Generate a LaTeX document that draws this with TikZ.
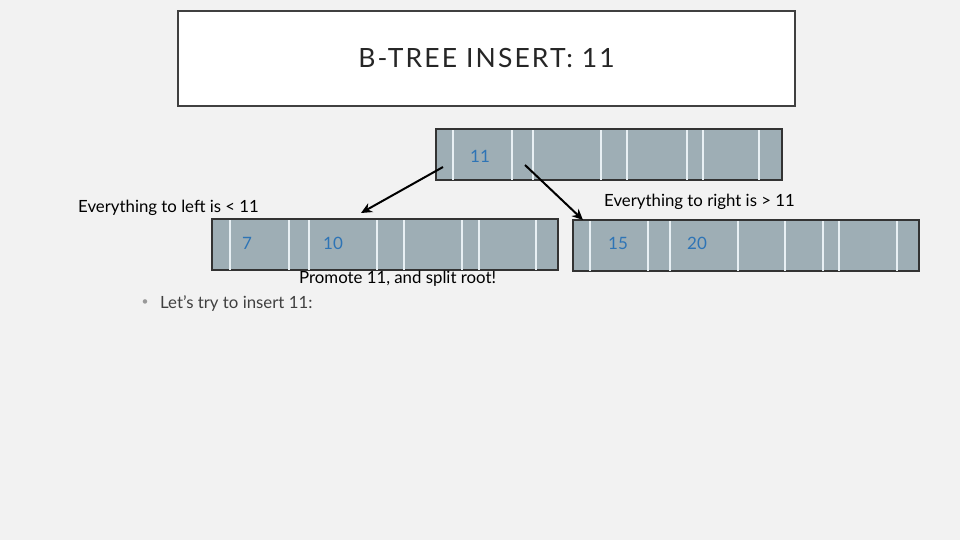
\documentclass[tikz,border=0pt]{standalone}
\usepackage{fontspec}
\setmainfont{Lato}
\newfontfamily\titlefont[LetterSpace=8]{Lato}
\usetikzlibrary{arrows.meta}
\definecolor{bg}{RGB}{242,242,242}
\definecolor{cellgray}{RGB}{158,174,181}
\definecolor{divwhite}{RGB}{232,240,244}
\definecolor{keyblue}{RGB}{46,116,181}
\definecolor{darktxt}{RGB}{64,64,64}
\tikzset{
  bnode/.style={draw=black!80, line width=1.2pt, fill=cellgray, minimum width=345pt, minimum height=50pt, inner sep=0pt, anchor=north west},
  divider/.style={draw=divwhite, line width=1.3pt},
  keytxt/.style={text=keyblue, font=\fontsize{17}{19}\selectfont, inner sep=0pt},
  lbl/.style={text=black, font=\fontsize{16.8}{19}\selectfont, inner sep=0pt, anchor=base west},
  arr/.style={draw=black, line width=2pt, -{Stealth[length=11pt,width=10pt]}},
}
\begin{document}
\begin{tikzpicture}[x=1pt,y=-1pt]
\useasboundingbox (0,0) rectangle (960,540);
\fill[bg] (0,0) rectangle (960,540);
% title
\node[draw=darktxt, line width=2pt, fill=white, minimum width=617pt, minimum height=95pt, anchor=north west, inner sep=0pt] (title) at (177,10) {};
\node[text=black!85, font=\titlefont\fontsize{26.5}{29}\selectfont, inner sep=0pt] (ttxt) at (title.center) {B-TREE INSERT: 11};
% nodes
\node[bnode] (root) at (436,129) {};
\node[bnode] (left) at (212,219) {};
\node[bnode] (right) at (573,220) {};
\foreach \o in {17,76,97,165,191,251,267,323}
  \draw[divider] ([xshift=\o]root.north west) -- ([xshift=\o]root.south west);
\foreach \o in {18,77,97,165,192,250,267,324}
  \draw[divider] ([xshift=\o]left.north west) -- ([xshift=\o]left.south west);
\foreach \o in {17,75,97,165,212,250,266,324}
  \draw[divider] ([xshift=\o]right.north west) -- ([xshift=\o]right.south west);
\draw[black!80, line width=1.2pt] (root.north west) rectangle (root.south east);
\draw[black!80, line width=1.2pt] (left.north west) rectangle (left.south east);
\draw[black!80, line width=1.2pt] (right.north west) rectangle (right.south east);
% keys
\node[keytxt] (k11) at (480,156) {11};
\node[keytxt] (k7) at (247,243) {7};
\node[keytxt] (k10) at (333,243) {10};
\node[keytxt] (k15) at (618,243) {15};
\node[keytxt] (k20) at (697,243) {20};
% arrows
\coordinate (lstart) at (443,167);
\coordinate (ltip) at (361,213);
\coordinate (rstart) at (525,165);
\coordinate (rtip) at (583,220);
\draw[arr] (lstart) -- (ltip);
\draw[arr] (rstart) -- (rtip);
% labels
\node[lbl] (lleft) at (78,212.5) {Everything to left is < 11};
\node[lbl] (lright) at (604,206.5) {Everything to right is > 11};
\node[lbl] (lprom) at (299,283.5) {Promote 11, and split root!};
\node[text=black!40, font=\fontsize{12}{14}\selectfont, inner sep=0pt] (bul) at (145,303) {•};
\node[lbl, text=darktxt] (btxt) at (160,308.5) {Let's try to insert 11:};
\end{tikzpicture}
\end{document}
